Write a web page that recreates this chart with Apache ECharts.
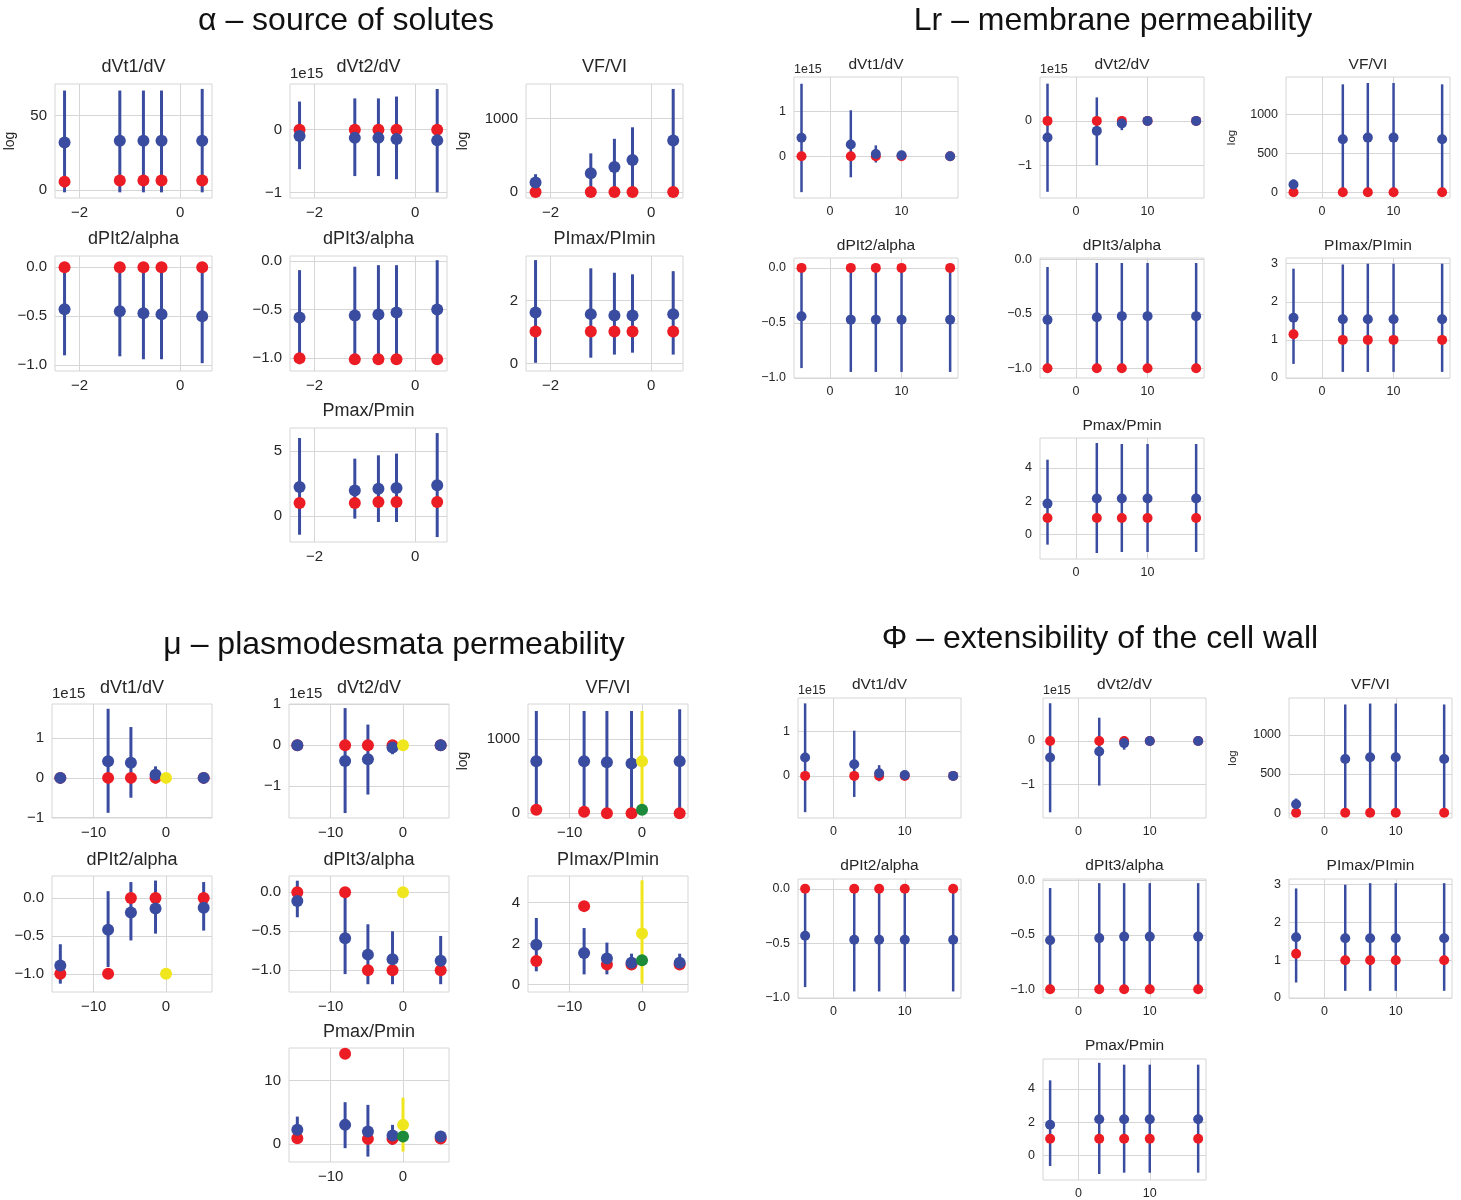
<!DOCTYPE html>
<html><head><meta charset="utf-8">
<script src="https://cdn.jsdelivr.net/npm/echarts@6/dist/echarts.min.js"></script>
<style>html,body{margin:0;padding:0;background:#fff}#c{width:1461px;height:1200px}</style>
</head><body><div id="c"></div>
<script>
// ---------------- DATA ----------------
// x positions (log scale) and x axis ranges / ticks per panel
const xAlpha = [-2.3, -1.2, -0.73, -0.37, 0.44];
const xLr = [-4.0, 2.9, 6.4, 10.0, 16.8];
const xMu = [-14.6, -8.0, -4.85, -1.45, 5.2];
const xPhi = [-4.0, 2.9, 6.4, 10.0, 16.8];
const xMuExtra = [0];
const xAlphaRange = [-2.49, 0.635], xAlphaTicks = [-2, 0];
const xLrRange = [-5.05, 17.9], xLrTicks = [0, 10];
const xMuRange = [-15.75, 6.35], xMuTicks = [-10, 0];
const xPhiRange = [-5.0, 17.9], xPhiTicks = [0, 10];

const subTitles = ['dVt1/dV', 'dVt2/dV', 'VF/VI', 'dPIt2/alpha', 'dPIt3/alpha', 'PImax/PImin', 'Pmax/Pmin'];
const panelTitles = ['α – source of solutes', 'Lr – membrane permeability', 'μ – plasmodesmata permeability', 'Φ – extensibility of the cell wall'];

// ---- α panel ----
const aVt1Mean = [31.9, 33.0, 33.0, 33.0, 33.0];
const aVt1Lo = [-1.6, -1.6, -1.6, -1.6, -1.6];
const aVt1Hi = [66.8, 66.8, 66.8, 66.8, 67.9];
const aVt1Red = [5.6, 6.4, 6.4, 6.4, 6.4];
const aVt1Range = [-5.4, 71.2], aVt1Ticks = [0, 50];

const aVt2Mean = [-0.10e15, -0.13e15, -0.13e15, -0.15e15, -0.17e15];
const aVt2Lo = [-0.63e15, -0.74e15, -0.74e15, -0.79e15, -1.0e15];
const aVt2Hi = [0.45e15, 0.50e15, 0.50e15, 0.53e15, 0.65e15];
const aVt2Red = [0, 0, 0, 0, 0];
const aVt2Range = [-1.09e15, 0.73e15], aVt2Ticks = [-1e15, 0];

const aVFMean = [135, 260, 345, 439, 704];
const aVFLo = [24, -9, -37, -5, 4];
const aVFHi = [246, 529, 727, 883, 1404];
const aVFRed = [3, 3, 3, 3, 3];
const aVFRange = [-77, 1471], aVFTicks = [0, 1000];

const aPlt2Mean = [-0.43, -0.45, -0.47, -0.48, -0.50];
const aPlt2Lo = [-0.90, -0.91, -0.94, -0.94, -0.98];
const aPlt2Hi = [0.03, 0.01, 0.0, -0.02, -0.02];
const aPlt2Red = [0, 0, 0, 0, 0];
const aPlt2Range = [-1.06, 0.115], aPlt2Ticks = [-1, -0.5, 0];

const aPlt3Mean = [-0.58, -0.56, -0.55, -0.53, -0.50];
const aPlt3Lo = [-1.06, -1.06, -1.05, -1.02, -1.0];
const aPlt3Hi = [-0.095, -0.06, -0.044, -0.044, 0.007];
const aPlt3Red = [-1.0, -1.01, -1.01, -1.01, -1.01];
const aPlt3Range = [-1.13, 0.05], aPlt3Ticks = [-1, -0.5, 0];

const aPImMean = [1.62, 1.57, 1.53, 1.53, 1.57];
const aPImLo = [0.03, 0.19, 0.29, 0.35, 0.29];
const aPImHi = [3.28, 3.02, 2.88, 2.83, 2.93];
const aPImRed = [1.02, 1.02, 1.02, 1.02, 1.02];
const aPImRange = [-0.23, 3.41], aPImTicks = [0, 2];

const aPmMean = [2.23, 1.97, 2.1, 2.15, 2.36];
const aPmLo = [-1.44, -0.2, -0.46, -0.46, -1.62];
const aPmHi = [6.0, 4.41, 4.67, 4.8, 6.38];
const aPmRed = [1.0, 1.0, 1.08, 1.08, 1.08];
const aPmRange = [-2.0, 6.77], aPmTicks = [0, 5];

// ---- Lr panel ----
const lVt1Mean = [0.41e15, 0.26e15, 0.05e15, 0.02e15, 0];
const lVt1Lo = [-0.80e15, -0.47e15, -0.14e15, 0.01e15, 0];
const lVt1Hi = [1.61e15, 1.02e15, 0.24e15, 0.03e15, 0];
const lVt1Red = [0, 0, 0, 0, 0];
const lVt1Range = [-0.93e15, 1.76e15], lVt1Ticks = [0, 1e15];

const lVt2Mean = [-0.375e15, -0.226e15, -0.06e15, 0, 0];
const lVt2Lo = [-1.6e15, -1.0e15, -0.21e15, 0, 0];
const lVt2Hi = [0.84e15, 0.53e15, 0.11e15, 0, 0];
const lVt2Red = [0, 0, 0, 0, 0];
const lVt2Range = [-1.74e15, 0.99e15], lVt2Ticks = [-1e15, 0];

const lVFMean = [103, 683, 705, 705, 683];
const lVFLo = [36, -22, 5, 5, -22];
const lVFHi = [170, 1388, 1405, 1405, 1388];
const lVFRed = [5, 5, 5, 5, 5];
const lVFRange = [-69, 1482], lVFTicks = [0, 500, 1000];

const lPlt2Mean = [-0.44, -0.47, -0.47, -0.47, -0.47];
const lPlt2Lo = [-0.91, -0.945, -0.945, -0.945, -0.945];
const lPlt2Hi = [0.04, 0, 0, 0, 0];
const lPlt2Red = [0, 0, 0, 0, 0];
const lPlt2Range = [-1.0, 0.09], lPlt2Ticks = [-1, -0.5, 0];

const lPlt3Mean = [-0.554, -0.53, -0.52, -0.52, -0.52];
const lPlt3Lo = [-1.04, -1.03, -1.01, -1.01, -1.01];
const lPlt3Hi = [-0.067, -0.03, -0.03, -0.03, -0.03];
const lPlt3Red = [-1.0, -1.0, -1.0, -1.0, -1.0];
const lPlt3Range = [-1.09, 0.016], lPlt3Ticks = [-1, -0.5, 0];

const lPImMean = [1.58, 1.54, 1.54, 1.54, 1.54];
const lPImLo = [0.37, 0.16, 0.16, 0.16, 0.16];
const lPImHi = [2.87, 2.98, 3.0, 3.0, 3.0];
const lPImRed = [1.15, 1.0, 1.0, 1.0, 1.0];
const lPImRange = [0, 3.15], lPImTicks = [0, 1, 2, 3];

const lPmMean = [1.86, 2.16, 2.16, 2.16, 2.16];
const lPmLo = [-0.6, -1.1, -1.04, -1.04, -1.04];
const lPmHi = [4.49, 5.49, 5.43, 5.43, 5.43];
const lPmRed = [1.0, 1.0, 1.0, 1.0, 1.0];
const lPmRange = [-1.46, 5.79], lPmTicks = [0, 2, 4];

// ---- μ panel ----
const mVt1Mean = [0, 0.42e15, 0.38e15, 0.08e15, 0];
const mVt1Lo = [0, -0.88e15, -0.5e15, -0.13e15, 0];
const mVt1Hi = [0, 1.74e15, 1.28e15, 0.29e15, 0];
const mVt1Red = [0, 0, 0, 0, 0];
const mVt1Yel = [0];
const mVt1Range = [-1.01e15, 1.86e15], mVt1Ticks = [-1e15, 0, 1e15];

const mVt2Mean = [0, -0.385e15, -0.34e15, -0.06e15, 0];
const mVt2Lo = [0, -1.65e15, -1.2e15, -0.22e15, 0];
const mVt2Hi = [0, 0.9e15, 0.5e15, 0.05e15, 0];
const mVt2Red = [0, 0, 0, 0, 0];
const mVt2Yel = [0];
const mVt2Range = [-1.77e15, 1.0e15], mVt2Ticks = [-1e15, 0, 1e15];

const mVFMean = [701, 701, 688, 671, 701];
const mVFLo = [25, 25, 0, 0, 0];
const mVFHi = [1377, 1377, 1377, 1377, 1400];
const mVFRed = [48, 21, 0, 0, 0];
const mVFYel = [701], mVFYelLo = [15], mVFYelHi = [1377], mVFGreen = [48];
const mVFRange = [-63, 1471], mVFTicks = [0, 1000];

const mPlt2Mean = [-0.89, -0.42, -0.19, -0.14, -0.13];
const mPlt2Lo = [-1.13, -0.91, -0.56, -0.47, -0.43];
const mPlt2Hi = [-0.61, 0.09, 0.21, 0.23, 0.21];
const mPlt2Red = [-1.0, -1.0, 0, 0, 0];
const mPlt2Yel = [-1.0];
const mPlt2Range = [-1.24, 0.29], mPlt2Ticks = [-1, -0.5, 0];

const mPlt3Mean = [-0.11, -0.59, -0.8, -0.86, -0.88];
const mPlt3Lo = [-0.32, -1.05, -1.18, -1.18, -1.18];
const mPlt3Hi = [0.15, 0.0, -0.41, -0.5, -0.56];
const mPlt3Red = [0, 0, -1.0, -1.0, -1.0];
const mPlt3Yel = [0];
const mPlt3Range = [-1.28, 0.21], mPlt3Ticks = [-1, -0.5, 0];

const mPImMean = [1.95, 1.54, 1.27, 1.07, 1.07];
const mPImLo = [0.65, 0.5, 0.5, 0.85, 0.85];
const mPImHi = [3.25, 2.76, 2.05, 1.51, 1.51];
const mPImRed = [1.15, 3.83, 0.98, 0.98, 0.98];
const mPImYel = [2.49], mPImYelLo = [0.05], mPImYelHi = [5.09], mPImGreen = [1.19];
const mPImRange = [-0.36, 5.3], mPImTicks = [0, 2, 4];

const mPmMean = [2.25, 3.03, 1.98, 1.35, 1.19];
const mPmLo = [0.3, -0.63, -1.95, -0.1, 1.0];
const mPmHi = [4.33, 6.59, 6.17, 3.03, 1.4];
const mPmRed = [0.94, 14.2, 0.83, 0.83, 0.9];
const mPmYel = [3.03], mPmYelLo = [-1.16], mPmYelHi = [7.3], mPmGreen = [1.19];
const mPmRange = [-2.8, 15.1], mPmTicks = [0, 10];

// ---- Φ panel ----
const pVt1Mean = [0.41e15, 0.26e15, 0.06e15, 0.02e15, 0];
const pVt1Lo = [-0.81e15, -0.47e15, -0.12e15, 0.01e15, 0];
const pVt1Hi = [1.62e15, 1.01e15, 0.24e15, 0.03e15, 0];
const pVt1Red = [0, 0, 0, 0, 0];
const pVt1Range = [-0.94e15, 1.74e15], pVt1Ticks = [0, 1e15];

const pVt2Mean = [-0.38e15, -0.24e15, -0.05e15, 0, 0];
const pVt2Lo = [-1.63e15, -1.02e15, -0.2e15, 0, 0];
const pVt2Hi = [0.86e15, 0.53e15, 0.11e15, 0, 0];
const pVt2Red = [0, 0, 0, 0, 0];
const pVt2Range = [-1.76e15, 0.98e15], pVt2Ticks = [-1e15, 0];

const pVFMean = [114, 692, 713, 713, 692];
const pVFLo = [42, -5, 25, 25, -5];
const pVFHi = [186, 1389, 1401, 1401, 1389];
const pVFRed = [5, 5, 5, 5, 5];
const pVFRange = [-63, 1472], pVFTicks = [0, 500, 1000];

const pPlt2Mean = [-0.43, -0.467, -0.467, -0.467, -0.467];
const pPlt2Lo = [-0.90, -0.94, -0.94, -0.94, -0.94];
const pPlt2Hi = [0.04, 0, 0, 0, 0];
const pPlt2Red = [0, 0, 0, 0, 0];
const pPlt2Range = [-1.0, 0.09], pPlt2Ticks = [-1, -0.5, 0];

const pPlt3Mean = [-0.55, -0.53, -0.516, -0.516, -0.516];
const pPlt3Lo = [-1.03, -1.03, -1.01, -1.01, -1.01];
const pPlt3Hi = [-0.07, -0.025, -0.025, -0.025, -0.025];
const pPlt3Red = [-1.0, -1.0, -1.0, -1.0, -1.0];
const pPlt3Range = [-1.08, 0.013], pPlt3Ticks = [-1, -0.5, 0];

const pPImMean = [1.61, 1.58, 1.58, 1.58, 1.58];
const pPImLo = [0.41, 0.19, 0.19, 0.19, 0.19];
const pPImHi = [2.9, 3.0, 3.04, 3.04, 3.04];
const pPImRed = [1.17, 1.0, 1.0, 1.0, 1.0];
const pPImRange = [0, 3.15], pPImTicks = [0, 1, 2, 3];

const pPmMean = [1.85, 2.19, 2.19, 2.19, 2.19];
const pPmLo = [-0.62, -1.1, -1.02, -1.02, -1.02];
const pPmHi = [4.52, 5.57, 5.46, 5.46, 5.46];
const pPmRed = [1.02, 1.02, 1.02, 1.02, 1.02];
const pPmRange = [-1.46, 5.8], pPmTicks = [0, 2, 4];

// ---------------- SUBPLOT TABLE ----------------
// [panel, subIdx, xs, mean, lo, hi, red, yRange, yTicks, fmt, yName]
const specs = [
  [0,0,xAlpha,aVt1Mean,aVt1Lo,aVt1Hi,aVt1Red,aVt1Range,aVt1Ticks,'int','log'],
  [0,1,xAlpha,aVt2Mean,aVt2Lo,aVt2Hi,aVt2Red,aVt2Range,aVt2Ticks,'e15','1e15'],
  [0,2,xAlpha,aVFMean,aVFLo,aVFHi,aVFRed,aVFRange,aVFTicks,'int','log'],
  [0,3,xAlpha,aPlt2Mean,aPlt2Lo,aPlt2Hi,aPlt2Red,aPlt2Range,aPlt2Ticks,'dec',''],
  [0,4,xAlpha,aPlt3Mean,aPlt3Lo,aPlt3Hi,aPlt3Red,aPlt3Range,aPlt3Ticks,'dec',''],
  [0,5,xAlpha,aPImMean,aPImLo,aPImHi,aPImRed,aPImRange,aPImTicks,'int',''],
  [0,6,xAlpha,aPmMean,aPmLo,aPmHi,aPmRed,aPmRange,aPmTicks,'int',''],
  [1,0,xLr,lVt1Mean,lVt1Lo,lVt1Hi,lVt1Red,lVt1Range,lVt1Ticks,'e15','1e15'],
  [1,1,xLr,lVt2Mean,lVt2Lo,lVt2Hi,lVt2Red,lVt2Range,lVt2Ticks,'e15','1e15'],
  [1,2,xLr,lVFMean,lVFLo,lVFHi,lVFRed,lVFRange,lVFTicks,'int','log'],
  [1,3,xLr,lPlt2Mean,lPlt2Lo,lPlt2Hi,lPlt2Red,lPlt2Range,lPlt2Ticks,'dec',''],
  [1,4,xLr,lPlt3Mean,lPlt3Lo,lPlt3Hi,lPlt3Red,lPlt3Range,lPlt3Ticks,'dec',''],
  [1,5,xLr,lPImMean,lPImLo,lPImHi,lPImRed,lPImRange,lPImTicks,'int',''],
  [1,6,xLr,lPmMean,lPmLo,lPmHi,lPmRed,lPmRange,lPmTicks,'int',''],
  [2,0,xMu,mVt1Mean,mVt1Lo,mVt1Hi,mVt1Red,mVt1Range,mVt1Ticks,'e15','1e15'],
  [2,1,xMu,mVt2Mean,mVt2Lo,mVt2Hi,mVt2Red,mVt2Range,mVt2Ticks,'e15','1e15'],
  [2,2,xMu,mVFMean,mVFLo,mVFHi,mVFRed,mVFRange,mVFTicks,'int','log'],
  [2,3,xMu,mPlt2Mean,mPlt2Lo,mPlt2Hi,mPlt2Red,mPlt2Range,mPlt2Ticks,'dec',''],
  [2,4,xMu,mPlt3Mean,mPlt3Lo,mPlt3Hi,mPlt3Red,mPlt3Range,mPlt3Ticks,'dec',''],
  [2,5,xMu,mPImMean,mPImLo,mPImHi,mPImRed,mPImRange,mPImTicks,'int',''],
  [2,6,xMu,mPmMean,mPmLo,mPmHi,mPmRed,mPmRange,mPmTicks,'int',''],
  [3,0,xPhi,pVt1Mean,pVt1Lo,pVt1Hi,pVt1Red,pVt1Range,pVt1Ticks,'e15','1e15'],
  [3,1,xPhi,pVt2Mean,pVt2Lo,pVt2Hi,pVt2Red,pVt2Range,pVt2Ticks,'e15','1e15'],
  [3,2,xPhi,pVFMean,pVFLo,pVFHi,pVFRed,pVFRange,pVFTicks,'int','log'],
  [3,3,xPhi,pPlt2Mean,pPlt2Lo,pPlt2Hi,pPlt2Red,pPlt2Range,pPlt2Ticks,'dec',''],
  [3,4,xPhi,pPlt3Mean,pPlt3Lo,pPlt3Hi,pPlt3Red,pPlt3Range,pPlt3Ticks,'dec',''],
  [3,5,xPhi,pPImMean,pPImLo,pPImHi,pPImRed,pPImRange,pPImTicks,'int',''],
  [3,6,xPhi,pPmMean,pPmLo,pPmHi,pPmRed,pPmRange,pPmTicks,'int','']
];
// extra (yellow / green) series in μ panel, keyed by spec index
const extras = {
  14: {yel: mVt1Yel},
  15: {yel: mVt2Yel},
  16: {yel: mVFYel, lo: mVFYelLo, hi: mVFYelHi, green: mVFGreen},
  17: {yel: mPlt2Yel},
  18: {yel: mPlt3Yel},
  19: {yel: mPImYel, lo: mPImYelLo, hi: mPImYelHi, green: mPImGreen},
  20: {yel: mPmYel, lo: mPmYelLo, hi: mPmYelHi, green: mPmGreen}
};

// ---------------- LAYOUT / STYLE ----------------
const xRanges = [xAlphaRange, xLrRange, xMuRange, xPhiRange];
const xTicks = [xAlphaTicks, xLrTicks, xMuTicks, xPhiTicks];
const cellPos = [[0,0],[0,1],[0,2],[1,0],[1,1],[1,2],[2,1]];
const panelLayout = [
  {cols:[55,290,526], w:157, rows:[84,256,428], h:[114,115,114], tick:15, sub:18, titleOff:17, ms:12, lw:3, logGap:[38,0,56], title:[346,21], offDy:3},
  {cols:[794,1040,1286], w:164, rows:[77,258,438], h:[121,120,121], tick:12.5, sub:15.5, titleOff:12, ms:10, lw:2.5, logGap:[0,0,48], title:[1113,21], offDy:1},
  {cols:[52,289,528], w:160, rows:[704,876,1048], h:[114,116,114], tick:15, sub:18, titleOff:16, ms:12, lw:3, logGap:[0,0,58], title:[394,645], offDy:3},
  {cols:[798,1043,1289], w:163, rows:[698,879,1059], h:[120,119,121], tick:12.5, sub:15.5, titleOff:13, ms:10, lw:2.5, logGap:[0,0,50], title:[1100,639], offDy:1}
];
const BLUE = '#3a4ca0', RED = '#ec1c24', YEL = '#f0e61e', GRN = '#1b8a3a';
const FONT = 'Liberation Sans, Arial, Helvetica, sans-serif';
const TXT = '#262626', GRIDC = '#d6d6d6';

function minus(s) { return s.replace('-', '\u2212'); }
const fmts = {
  int: v => minus(String(Math.round(v))),
  e15: v => minus(String(Math.round(v / 1e15))),
  dec: v => minus((Math.abs(v) < 1e-9 ? 0 : v).toFixed(1))
};
function errBar(color, lw) {
  return function (params, api) {
    const a = api.coord([api.value(0), api.value(1)]);
    const b = api.coord([api.value(0), api.value(2)]);
    return {type: 'line', shape: {x1: a[0], y1: a[1], x2: b[0], y2: b[1]},
      style: {stroke: color, lineWidth: lw}};
  };
}

const option = {animation: false, backgroundColor: '#ffffff', grid: [], xAxis: [], yAxis: [], series: [], graphic: []};

panelLayout.forEach((L, p) => {
  option.graphic.push({type: 'text', x: L.title[0], y: L.title[1], silent: true,
    style: {text: panelTitles[p], font: '32px ' + FONT, fill: '#111', textAlign: 'center', textVerticalAlign: 'middle'}});
});

specs.forEach((s, i) => {
  const [p, k, xs, mean, lo, hi, red, yr, yt, fmt, yName] = s;
  const L = panelLayout[p];
  const [r, c] = cellPos[k];
  const left = L.cols[c], top = L.rows[r], w = L.w, h = L.h[r];
  option.grid.push({left: left, top: top, width: w, height: h, show: true,
    borderColor: GRIDC, borderWidth: 1, backgroundColor: 'transparent'});
  option.graphic.push({type: 'text', x: left + w / 2, y: top - L.titleOff, silent: true,
    style: {text: subTitles[k], font: L.sub + 'px ' + FONT, fill: TXT, textAlign: 'center', textVerticalAlign: 'middle'}});
  const labelStyle = {color: TXT, fontSize: L.tick, fontFamily: FONT};
  option.xAxis.push({gridIndex: i, type: 'value', min: xRanges[p][0], max: xRanges[p][1],
    axisLine: {show: false}, axisTick: {show: false, customValues: xTicks[p]},
    axisLabel: Object.assign({customValues: xTicks[p], formatter: fmts.int, margin: 7}, labelStyle),
    splitLine: {show: true, lineStyle: {color: GRIDC, width: 1}}});
  const ya = {gridIndex: i, type: 'value', min: yr[0], max: yr[1],
    axisLine: {show: false}, axisTick: {show: false, customValues: yt},
    axisLabel: Object.assign({customValues: yt, formatter: fmts[fmt], margin: 8}, labelStyle),
    splitLine: {show: true, lineStyle: {color: GRIDC, width: 1}}};
  if (yName === '1e15') {
    // matplotlib-style offset text above the top-left corner of the axes
    option.graphic.push({type: 'text', x: left, y: top - L.offDy, silent: true,
      style: {text: '1e15', font: L.tick + 'px ' + FONT, fill: TXT, textAlign: 'left', textVerticalAlign: 'bottom'}});
  } else if (yName === 'log') {
    Object.assign(ya, {name: 'log', nameLocation: 'middle', nameGap: L.logGap[c], nameRotate: 90,
      nameTextStyle: {color: TXT, fontSize: L.tick - 1, fontFamily: FONT}});
  }
  option.yAxis.push(ya);

  option.series.push({type: 'custom', xAxisIndex: i, yAxisIndex: i, clip: true, silent: true,
    renderItem: errBar(BLUE, L.lw), encode: {x: 0, y: [1, 2]},
    data: xs.map((x, j) => [x, lo[j], hi[j]])});
  option.series.push({type: 'scatter', xAxisIndex: i, yAxisIndex: i, silent: true, symbolSize: L.ms,
    itemStyle: {color: RED, opacity: 1}, data: xs.map((x, j) => [x, red[j]])});
  option.series.push({type: 'scatter', xAxisIndex: i, yAxisIndex: i, silent: true, symbolSize: L.ms,
    itemStyle: {color: BLUE, opacity: 1}, data: xs.map((x, j) => [x, mean[j]])});
  const e = extras[i];
  if (e) {
    if (e.lo) option.series.push({type: 'custom', xAxisIndex: i, yAxisIndex: i, clip: true, silent: true,
      renderItem: errBar(YEL, L.lw), encode: {x: 0, y: [1, 2]},
      data: xMuExtra.map((x, j) => [x, e.lo[j], e.hi[j]])});
    if (e.green) option.series.push({type: 'scatter', xAxisIndex: i, yAxisIndex: i, silent: true, symbolSize: L.ms,
      itemStyle: {color: GRN, opacity: 1}, data: xMuExtra.map((x, j) => [x, e.green[j]])});
    option.series.push({type: 'scatter', xAxisIndex: i, yAxisIndex: i, silent: true, symbolSize: L.ms,
      itemStyle: {color: YEL, opacity: 1}, data: xMuExtra.map((x, j) => [x, e.yel[j]])});
  }
});

const chart = echarts.init(document.getElementById('c'), null, {renderer: 'canvas'});
chart.setOption(option);
</script>
</body></html>
